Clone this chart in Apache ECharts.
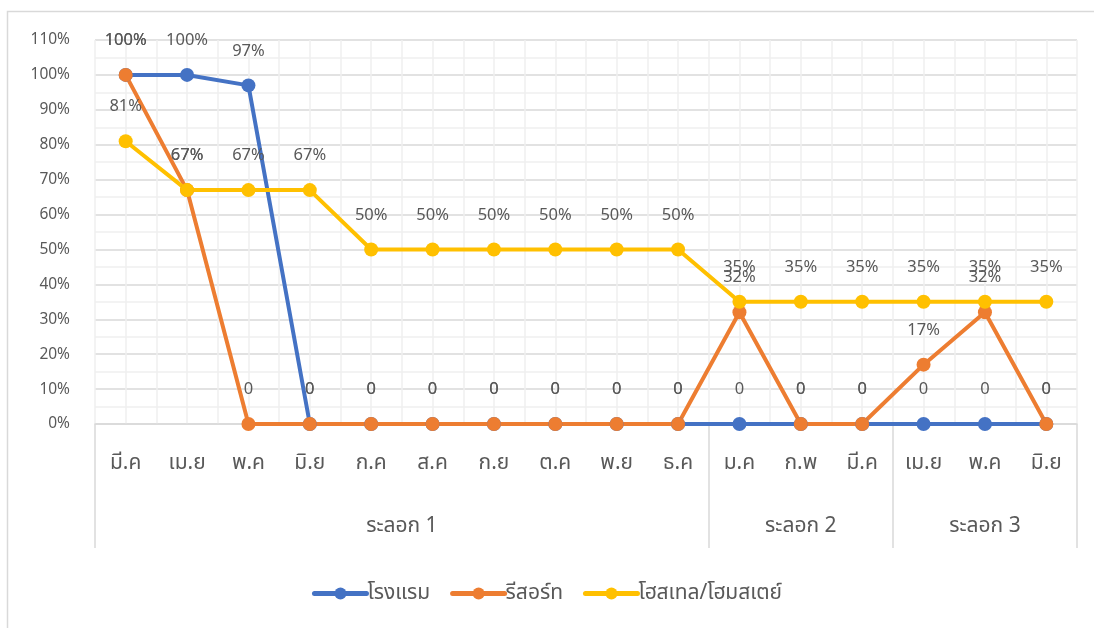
<!DOCTYPE html>
<html>
<head>
<meta charset="utf-8">
<script src="https://cdn.jsdelivr.net/npm/echarts@6/dist/echarts.min.js"></script>
<style>
  html, body { margin: 0; padding: 0; background: #ffffff; }
  #chart { width: 1094px; height: 628px; }
</style>
</head>
<body>
<div id="chart"></div>
<script>
// Months along the axis (16 points, three waves)
const months = ['มี.ค', 'เม.ย', 'พ.ค', 'มิ.ย', 'ก.ค', 'ส.ค', 'ก.ย', 'ต.ค', 'พ.ย', 'ธ.ค', 'ม.ค', 'ก.พ', 'มี.ค', 'เม.ย', 'พ.ค', 'มิ.ย'];
// Wave groups and how many months each spans
const groupNames = ['ระลอก 1', 'ระลอก 2', 'ระลอก 3'];
const groupSizes = [10, 3, 3];
// Series values, percent
const seriesNames = ['โรงแรม', 'รีสอร์ท', 'โฮสเทล/โฮมสเตย์'];
const hotel  = [100, 100, 97, 0, 0, 0, 0, 0, 0, 0, 0, 0, 0, 0, 0, 0];
const resort = [100, 67, 0, 0, 0, 0, 0, 0, 0, 0, 32, 0, 0, 17, 32, 0];
const hostel = [81, 67, 67, 67, 50, 50, 50, 50, 50, 50, 35, 35, 35, 35, 35, 35];
// Y axis ticks
const yMin = 0, yMax = 110, yStep = 10;

const colors = ['#4472C4', '#ED7D31', '#FFC000'];
const FONT = "'Noto Sans', 'Noto Sans Thai', 'Leelawadee UI', Tahoma, sans-serif";
const TXT = '#595959';

// group boundaries and centres in category units
const bounds = [0];
groupSizes.forEach(s => bounds.push(bounds[bounds.length - 1] + s));
const centres = groupSizes.map((s, i) => bounds[i] + s / 2);

const chart = echarts.init(document.getElementById('chart'), null, { renderer: 'canvas' });

function makeSeries(name, data, color) {
  return {
    name: name,
    type: 'line',
    data: data,
    xAxisIndex: 0,
    symbol: 'circle',
    symbolSize: 14,
    lineStyle: { width: 4, color: color },
    itemStyle: { color: color },
    label: {
      show: true,
      position: 'top',
      distance: 19,
      color: TXT,
      fontFamily: FONT,
      fontSize: 16.5,
      formatter: p => (p.value === 0 ? '0' : p.value + '%')
    },
    labelLayout: { hideOverlap: false },
    emphasis: { disabled: true },
    animation: false
  };
}

chart.setOption({
  animation: false,
  textStyle: { fontFamily: FONT },
  // frame: top and left edges
  graphic: [{
    type: 'polyline',
    shape: { points: [[7.5, 628], [7.5, 11.5], [1094, 11.5]] },
    style: { fill: null, stroke: '#d9d9d9', lineWidth: 1.5 },
    silent: true,
    z: -10
  }],
  grid: { left: 95, right: 17, top: 40, bottom: 204, containLabel: false },
  legend: {
    bottom: 19,
    left: 'center',
    itemWidth: 52,
    itemHeight: 15,
    itemGap: 20,
    lineStyle: { width: 5, cap: 'round' },
    textStyle: { color: TXT, fontSize: 21, fontFamily: FONT, padding: [0, 0, 0, -4] },
    data: seriesNames
  },
  xAxis: [{
    type: 'category',
    data: months,
    boundaryGap: true,
    axisLine: { show: true, lineStyle: { color: '#d9d9d9', width: 1.5 } },
    axisTick: { show: false },
    axisLabel: { color: TXT, fontSize: 21, margin: 29, interval: 0, fontFamily: FONT },
    splitLine: { show: false },
    z: 3
  }, {
    // group row: separators at group boundaries, names at group centres
    type: 'value',
    min: 0,
    max: months.length,
    position: 'bottom',
    axisLine: { show: false },
    axisTick: {
      show: true,
      customValues: bounds,
      length: 124,
      lineStyle: { color: '#d9d9d9', width: 1.5 }
    },
    axisLabel: {
      show: true,
      customValues: centres,
      margin: 92,
      color: TXT,
      fontSize: 21,
      fontFamily: FONT,
      formatter: v => {
        const i = centres.findIndex(c => Math.abs(c - v) < 1e-6);
        return i >= 0 ? groupNames[i] : '';
      }
    },
    splitLine: { show: false }
  }, {
    // light vertical grid every half month
    type: 'value',
    min: 0,
    max: months.length,
    interval: 0.5,
    position: 'bottom',
    axisLine: { show: false },
    axisTick: { show: false },
    axisLabel: { show: false },
    splitLine: { show: true, lineStyle: { color: '#efefef', width: 1.5 } }
  }],
  yAxis: {
    type: 'value',
    min: yMin,
    max: yMax,
    interval: yStep,
    axisLine: { show: false },
    axisTick: { show: false },
    axisLabel: { color: TXT, fontSize: 15.5, margin: 25, formatter: '{value}%', fontFamily: FONT },
    splitLine: { show: true, lineStyle: { color: '#d9d9d9', width: 1.5 } },
    minorTick: { show: false, splitNumber: 2 },
    minorSplitLine: { show: true, lineStyle: { color: '#efefef', width: 1.5 } }
  },
  series: [
    makeSeries(seriesNames[0], hotel, colors[0]),
    makeSeries(seriesNames[1], resort, colors[1]),
    makeSeries(seriesNames[2], hostel, colors[2])
  ]
});
</script>
</body>
</html>
